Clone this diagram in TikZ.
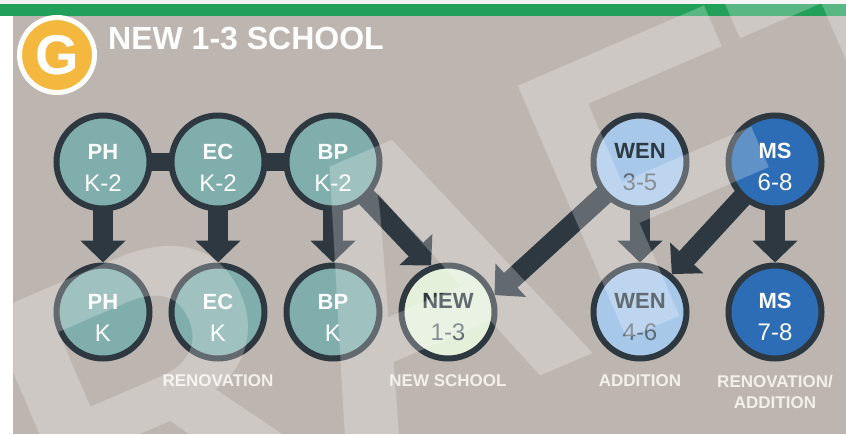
\documentclass[tikz,border=0pt]{standalone}
\usepackage{fontspec}
\setmainfont{Liberation Sans}
\usetikzlibrary{arrows.meta}
\definecolor{bggray}{HTML}{BDB6B0}
\definecolor{topgreen}{HTML}{22A05A}
\definecolor{badge}{HTML}{F5B83F}
\definecolor{darkc}{HTML}{2E3840}
\definecolor{gradec}{HTML}{5F6B73}
\definecolor{tealc}{HTML}{7FAEAD}
\definecolor{newc}{HTML}{E4F0DA}
\definecolor{wenc}{HTML}{A8C8EA}
\definecolor{msc}{HTML}{2C6DB5}
\definecolor{capc}{HTML}{F3F0EC}
\pgfdeclarelayer{back}
\pgfdeclarelayer{front}
\pgfsetlayers{back,main,front}

\begin{document}
\begin{tikzpicture}[x=1pt,y=-1pt,
  school/.style={circle,draw=darkc,line width=6pt,minimum size=93pt,inner sep=0pt,
    align=center,font=\fontsize{22}{32}\selectfont},
  flow/.style={draw=darkc,line width=20pt,-{Triangle[width=44pt,length=22pt]}},
  link/.style={draw=darkc,line width=18pt},
  caption/.style={text=capc,font=\bfseries\fontsize{17}{21}\selectfont,align=center,
    inner sep=0pt,anchor=north}]
\useasboundingbox (0,0) rectangle (846,434);
% badge and title
\node[circle,fill=badge,draw=white,line width=5pt,minimum size=75pt,inner sep=0pt,
  text=white,font=\bfseries\fontsize{56}{56}\selectfont] (badge) at (57,55) {G};
\node[anchor=base west,inner sep=0pt,text=white,font=\bfseries\fontsize{32}{32}\selectfont]
  (title) at (108,49) {NEW 1-3 SCHOOL};
% schools, top row now and bottom row later
\foreach \x/\y/\n/\name/\grade/\fc/\tc/\gc in {
  103/162/t1/PH/K-2/tealc/white/white,
  218/162/t2/EC/K-2/tealc/white/white,
  333/162/t3/BP/K-2/tealc/white/white,
  640/162/t4/WEN/3-5/wenc/darkc/gradec,
  775/162/t5/MS/6-8/msc/white/white,
  103/312/b1/PH/K/tealc/white/white,
  218/312/b2/EC/K/tealc/white/white,
  333/312/b3/BP/K/tealc/white/white,
  448/312/b4/NEW/1-3/newc/darkc/gradec,
  640/312/b5/WEN/4-6/wenc/darkc/gradec,
  775/312/b6/MS/7-8/msc/white/white}
\node[school,fill=\fc,text=\tc](\n) at(\x,\y)
  {\rule{0pt}{26pt}\textbf{\name}\\\textcolor{\gc}{\fontsize{24}{32}\selectfont\grade}};
% captions
\node[caption] (renov) at ([yshift=-13pt]b2.south) {RENOVATION};
\node[caption] (newschool) at ([yshift=-13pt]b4.south) {NEW SCHOOL};
\node[caption] (addition) at ([yshift=-13pt]b5.south) {ADDITION};
\node[caption] (renovadd) at ([yshift=-13pt]b6.south) {RENOVATION/\\ADDITION};
\begin{pgfonlayer}{back}
\fill[white] (0,0) rectangle (846,434);
\fill[bggray] (13,16) rectangle (846,434);
\fill[topgreen] (0,4) rectangle (846,16);
\fill[black!5] (0,0) rectangle (846,4);
\draw[link] (t1.center) -- (t2.center) -- (t3.center);
\foreach \a/\b in {t1/b1,t2/b2,t3/b3,t4/b5,t5/b6}
  \draw[flow] (\a.center) -- (\b);
\draw[flow] (t3.center) -- (b4.110);
\draw[flow] (t4.center) -- (b4.20);
\draw[flow] (t5.center) -- (b5.50);
\end{pgfonlayer}
% watermark
\begin{pgfonlayer}{front}
\clip (0,0) rectangle (846,434);
\node[rotate=23.3,anchor=base west,inner sep=0pt,text=white,text opacity=.25,
  font=\bfseries\fontsize{400}{400}\selectfont] (draft) at (-193,692) {DRAFT};
\end{pgfonlayer}
\end{tikzpicture}
\end{document}
